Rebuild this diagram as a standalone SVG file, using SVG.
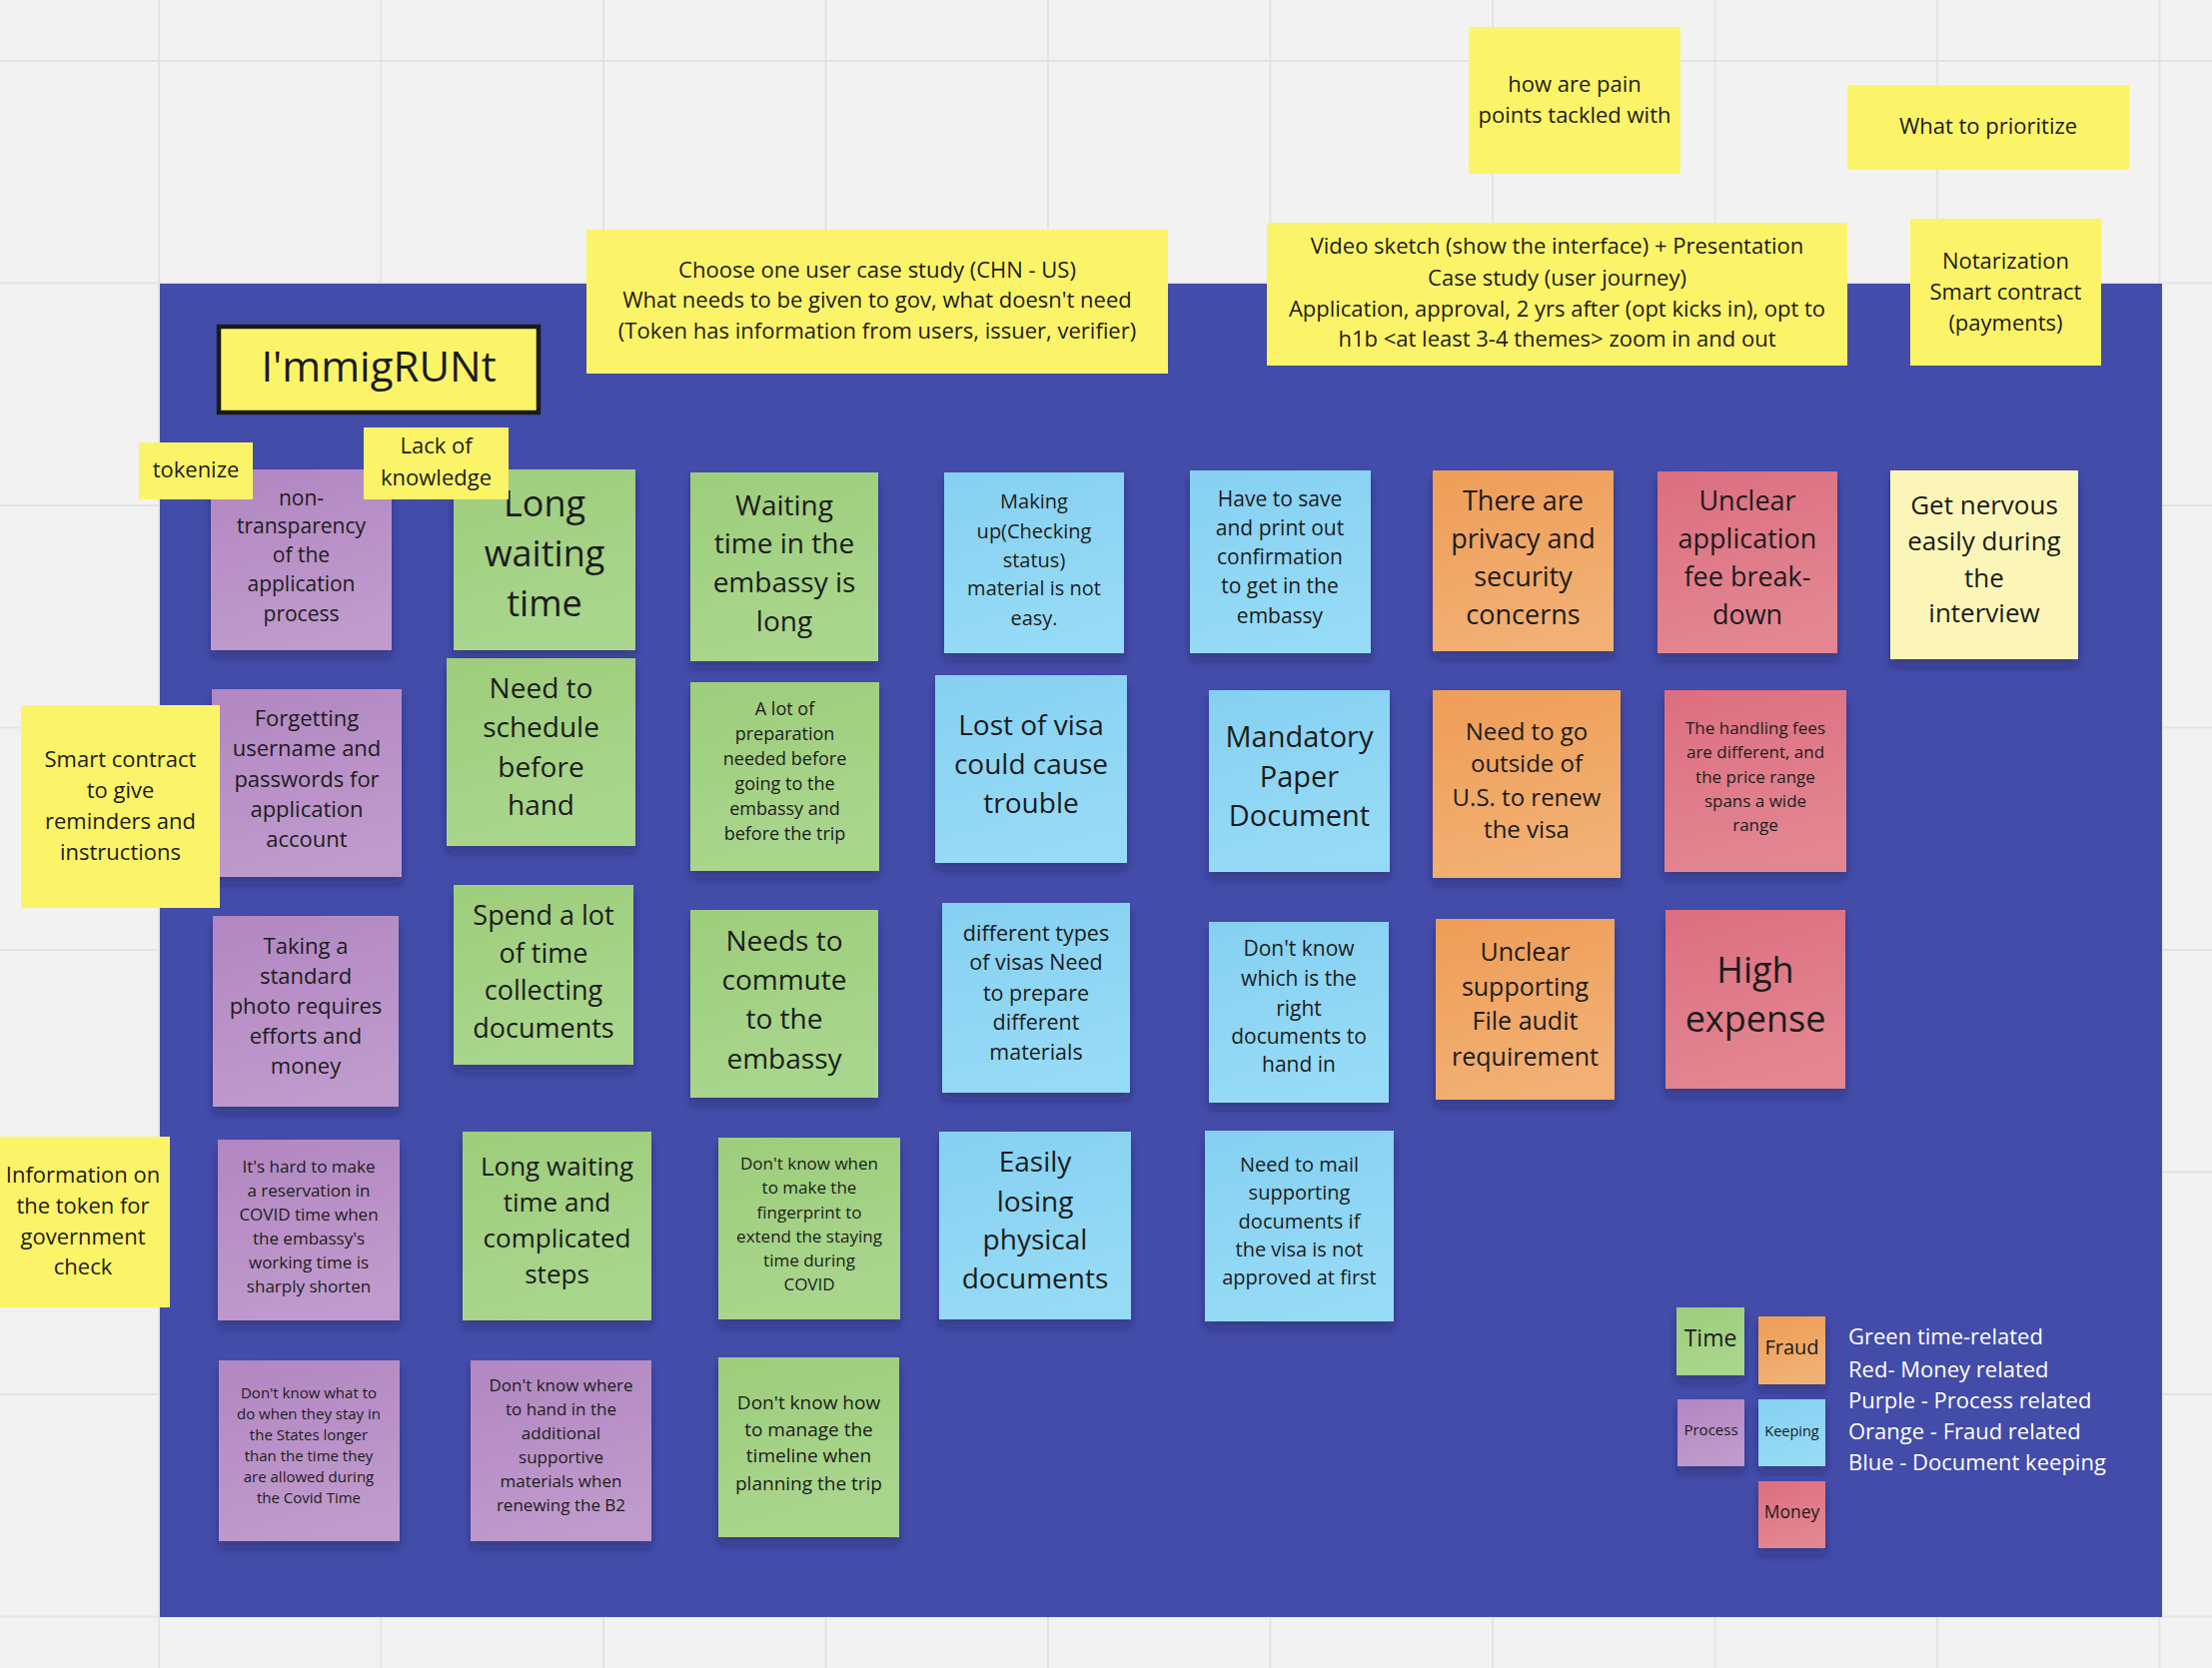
<svg xmlns="http://www.w3.org/2000/svg" width="2214" height="1670" viewBox="0 0 2214 1670">
<style>
.t{font-family:"Open Sans","Liberation Sans",sans-serif;fill:#1c1c1c;text-anchor:middle}
.lg{font-family:"Open Sans","Liberation Sans",sans-serif;fill:#ffffff}
.grid{stroke:#e3e3e3;stroke-width:2}
.y{fill:#fcf468}
.p{fill:url(#gp)}
.g{fill:url(#gg)}
.b{fill:url(#gb)}
.o{fill:url(#go)}
.r{fill:url(#gr)}
.ly{fill:#fbf6b8}
.sh{filter:url(#shadow)}
</style>
<defs>
<filter id="shadow" x="-10%" y="-10%" width="120%" height="130%">
<feDropShadow dx="0" dy="7" stdDeviation="5" flood-color="#141a4a" flood-opacity="0.35"/>
</filter>
<linearGradient id="gp" x1="0" y1="0" x2="0.3" y2="1"><stop offset="0" stop-color="#b286c2"/><stop offset="1" stop-color="#bf9acc"/></linearGradient>
<linearGradient id="gg" x1="0" y1="0" x2="0.3" y2="1"><stop offset="0" stop-color="#9ecd7b"/><stop offset="1" stop-color="#a9d68d"/></linearGradient>
<linearGradient id="gb" x1="0" y1="0" x2="0.3" y2="1"><stop offset="0" stop-color="#85d0f1"/><stop offset="1" stop-color="#96dbf6"/></linearGradient>
<linearGradient id="go" x1="0" y1="0" x2="0.3" y2="1"><stop offset="0" stop-color="#ee9d56"/><stop offset="1" stop-color="#f2b074"/></linearGradient>
<linearGradient id="gr" x1="0" y1="0" x2="0.3" y2="1"><stop offset="0" stop-color="#dc6e7f"/><stop offset="1" stop-color="#e38692"/></linearGradient>
</defs>

<g id="background">
<rect x="0" y="0" width="2214" height="1670" fill="#f2f2f2"/>
<g class="grid">
<line x1="159" y1="0" x2="159" y2="1670"/>
<line x1="381.5" y1="0" x2="381.5" y2="1670"/>
<line x1="604" y1="0" x2="604" y2="1670"/>
<line x1="826.5" y1="0" x2="826.5" y2="1670"/>
<line x1="1049" y1="0" x2="1049" y2="1670"/>
<line x1="1271.5" y1="0" x2="1271.5" y2="1670"/>
<line x1="1494" y1="0" x2="1494" y2="1670"/>
<line x1="1716.5" y1="0" x2="1716.5" y2="1670"/>
<line x1="1939" y1="0" x2="1939" y2="1670"/>
<line x1="2161.5" y1="0" x2="2161.5" y2="1670"/>
<line x1="0" y1="61" x2="2214" y2="61"/>
<line x1="0" y1="283.5" x2="2214" y2="283.5"/>
<line x1="0" y1="506" x2="2214" y2="506"/>
<line x1="0" y1="728.5" x2="2214" y2="728.5"/>
<line x1="0" y1="951" x2="2214" y2="951"/>
<line x1="0" y1="1173.5" x2="2214" y2="1173.5"/>
<line x1="0" y1="1396" x2="2214" y2="1396"/>
<line x1="0" y1="1618.5" x2="2214" y2="1618.5"/>
</g>
</g>

<g id="frame">
<rect x="160" y="284" width="2004" height="1335" fill="#434ca9"/>
</g>

<g id="connectors"></g>

<!-- Purple column -->
<g id="n-nontransparency">
<rect class="p sh" x="211" y="470" width="181" height="181"/>
<text class="t" font-size="21"><tspan x="301.5" y="506">non-</tspan><tspan x="301.5" y="534">transparency</tspan><tspan x="301.5" y="563">of the</tspan><tspan x="301.5" y="592">application</tspan><tspan x="301.5" y="622">process</tspan></text>
</g>
<g id="n-forgetting">
<rect class="p sh" x="212" y="690" width="190" height="188"/>
<text class="t" font-size="22"><tspan x="307" y="727">Forgetting</tspan><tspan x="307" y="757">username and</tspan><tspan x="307" y="788">passwords for</tspan><tspan x="307" y="818">application</tspan><tspan x="307" y="848">account</tspan></text>
</g>
<g id="n-photo">
<rect class="p sh" x="213" y="917" width="186" height="191"/>
<text class="t" font-size="22"><tspan x="306" y="955">Taking a</tspan><tspan x="306" y="985">standard</tspan><tspan x="306" y="1015">photo requires</tspan><tspan x="306" y="1045">efforts and</tspan><tspan x="306" y="1075">money</tspan></text>
</g>
<g id="n-reservation">
<rect class="p sh" x="218" y="1141" width="182" height="181"/>
<text class="t" font-size="17"><tspan x="309" y="1174">It's hard to make</tspan><tspan x="309" y="1198">a reservation in</tspan><tspan x="309" y="1222">COVID time when</tspan><tspan x="309" y="1246">the embassy's</tspan><tspan x="309" y="1270">working time is</tspan><tspan x="309" y="1294">sharply shorten</tspan></text>
</g>
<g id="n-staylonger">
<rect class="p sh" x="219" y="1362" width="181" height="181"/>
<text class="t" font-size="15"><tspan x="309" y="1400">Don't know what to</tspan><tspan x="309" y="1421">do when they stay in</tspan><tspan x="309" y="1442">the States longer</tspan><tspan x="309" y="1463">than the time they</tspan><tspan x="309" y="1484">are allowed during</tspan><tspan x="309" y="1505">the Covid Time</tspan></text>
</g>
<g id="n-handin-b2">
<rect class="p sh" x="471" y="1362" width="181" height="181"/>
<text class="t" font-size="17"><tspan x="561.5" y="1393">Don't know where</tspan><tspan x="561.5" y="1417">to hand in the</tspan><tspan x="561.5" y="1441">additional</tspan><tspan x="561.5" y="1465">supportive</tspan><tspan x="561.5" y="1489">materials when</tspan><tspan x="561.5" y="1513">renewing the B2</tspan></text>
</g>

<!-- Green column 2 -->
<g id="n-longwaiting">
<rect class="g sh" x="454" y="470" width="182" height="181"/>
<text class="t" font-size="36"><tspan x="545" y="517">Long</tspan><tspan x="545" y="567">waiting</tspan><tspan x="545" y="617">time</tspan></text>
</g>
<g id="n-schedule">
<rect class="g sh" x="447" y="659" width="189" height="188"/>
<text class="t" font-size="28"><tspan x="541.5" y="699">Need to</tspan><tspan x="541.5" y="738">schedule</tspan><tspan x="541.5" y="778">before</tspan><tspan x="541.5" y="816">hand</tspan></text>
</g>
<g id="n-spend">
<rect class="g sh" x="454" y="886" width="180" height="180"/>
<text class="t" font-size="27"><tspan x="544" y="926">Spend a lot</tspan><tspan x="544" y="964">of time</tspan><tspan x="544" y="1001">collecting</tspan><tspan x="544" y="1039">documents</tspan></text>
</g>
<g id="n-complicated">
<rect class="g sh" x="463" y="1133" width="189" height="189"/>
<text class="t" font-size="26"><tspan x="557.5" y="1177">Long waiting</tspan><tspan x="557.5" y="1213">time and</tspan><tspan x="557.5" y="1249">complicated</tspan><tspan x="557.5" y="1285">steps</tspan></text>
</g>

<!-- Green column 3 -->
<g id="n-embassywait">
<rect class="g sh" x="691" y="473" width="188" height="189"/>
<text class="t" font-size="28"><tspan x="785" y="516">Waiting</tspan><tspan x="785" y="554">time in the</tspan><tspan x="785" y="593">embassy is</tspan><tspan x="785" y="632">long</tspan></text>
</g>
<g id="n-preparation">
<rect class="g sh" x="691" y="683" width="189" height="189"/>
<text class="t" font-size="18"><tspan x="785.5" y="716">A lot of</tspan><tspan x="785.5" y="741">preparation</tspan><tspan x="785.5" y="766">needed before</tspan><tspan x="785.5" y="791">going to the</tspan><tspan x="785.5" y="816">embassy and</tspan><tspan x="785.5" y="841">before the trip</tspan></text>
</g>
<g id="n-commute">
<rect class="g sh" x="691" y="911" width="188" height="188"/>
<text class="t" font-size="28"><tspan x="785" y="952">Needs to</tspan><tspan x="785" y="991">commute</tspan><tspan x="785" y="1030">to the</tspan><tspan x="785" y="1070">embassy</tspan></text>
</g>
<g id="n-fingerprint">
<rect class="g sh" x="719" y="1139" width="182" height="182"/>
<text class="t" font-size="17"><tspan x="810" y="1171">Don't know when</tspan><tspan x="810" y="1195">to make the</tspan><tspan x="810" y="1220">fingerprint to</tspan><tspan x="810" y="1244">extend the staying</tspan><tspan x="810" y="1268">time during</tspan><tspan x="810" y="1292">COVID</tspan></text>
</g>
<g id="n-timeline">
<rect class="g sh" x="719" y="1359" width="181" height="180"/>
<text class="t" font-size="19"><tspan x="809.5" y="1411">Don't know how</tspan><tspan x="809.5" y="1438">to manage the</tspan><tspan x="809.5" y="1464">timeline when</tspan><tspan x="809.5" y="1492">planning the trip</tspan></text>
</g>

<!-- Blue column 4 -->
<g id="n-makingup">
<rect class="b sh" x="945" y="473" width="180" height="181"/>
<text class="t" font-size="20"><tspan x="1035" y="509">Making</tspan><tspan x="1035" y="539">up(Checking</tspan><tspan x="1035" y="568">status)</tspan><tspan x="1035" y="596">material is not</tspan><tspan x="1035" y="626">easy.</tspan></text>
</g>
<g id="n-lostvisa">
<rect class="b sh" x="936" y="676" width="192" height="188"/>
<text class="t" font-size="28"><tspan x="1032" y="736">Lost of visa</tspan><tspan x="1032" y="775">could cause</tspan><tspan x="1032" y="814">trouble</tspan></text>
</g>
<g id="n-visatypes">
<rect class="b sh" x="943" y="904" width="188" height="190"/>
<text class="t" font-size="21.5"><tspan x="1037" y="942">different types</tspan><tspan x="1037" y="971">of visas Need</tspan><tspan x="1037" y="1002">to prepare</tspan><tspan x="1037" y="1031">different</tspan><tspan x="1037" y="1061">materials</tspan></text>
</g>
<g id="n-losing">
<rect class="b sh" x="940" y="1133" width="192" height="188"/>
<text class="t" font-size="28"><tspan x="1036" y="1173">Easily</tspan><tspan x="1036" y="1213">losing</tspan><tspan x="1036" y="1251">physical</tspan><tspan x="1036" y="1290">documents</tspan></text>
</g>

<!-- Blue column 5 -->
<g id="n-saveprint">
<rect class="b sh" x="1191" y="471" width="181" height="183"/>
<text class="t" font-size="21"><tspan x="1281" y="507">Have to save</tspan><tspan x="1281" y="536">and print out</tspan><tspan x="1281" y="565">confirmation</tspan><tspan x="1281" y="594">to get in the</tspan><tspan x="1281" y="624">embassy</tspan></text>
</g>
<g id="n-mandatory">
<rect class="b sh" x="1210" y="691" width="181" height="182"/>
<text class="t" font-size="29"><tspan x="1300.5" y="748">Mandatory</tspan><tspan x="1300.5" y="788">Paper</tspan><tspan x="1300.5" y="827">Document</tspan></text>
</g>
<g id="n-rightdocs">
<rect class="b sh" x="1210" y="923" width="180" height="181"/>
<text class="t" font-size="21"><tspan x="1300" y="957">Don't know</tspan><tspan x="1300" y="987">which is the</tspan><tspan x="1300" y="1017">right</tspan><tspan x="1300" y="1045">documents to</tspan><tspan x="1300" y="1073">hand in</tspan></text>
</g>
<g id="n-mail">
<rect class="b sh" x="1206" y="1132" width="189" height="191"/>
<text class="t" font-size="20"><tspan x="1300.5" y="1173">Need to mail</tspan><tspan x="1300.5" y="1201">supporting</tspan><tspan x="1300.5" y="1230">documents if</tspan><tspan x="1300.5" y="1258">the visa is not</tspan><tspan x="1300.5" y="1286">approved at first</tspan></text>
</g>

<!-- Orange column -->
<g id="n-privacy">
<rect class="o sh" x="1434" y="471" width="181" height="181"/>
<text class="t" font-size="27"><tspan x="1524.5" y="511">There are</tspan><tspan x="1524.5" y="549">privacy and</tspan><tspan x="1524.5" y="587">security</tspan><tspan x="1524.5" y="625">concerns</tspan></text>
</g>
<g id="n-renew">
<rect class="o sh" x="1434" y="691" width="188" height="188"/>
<text class="t" font-size="24"><tspan x="1528" y="741">Need to go</tspan><tspan x="1528" y="773">outside of</tspan><tspan x="1528" y="807">U.S. to renew</tspan><tspan x="1528" y="839">the visa</tspan></text>
</g>
<g id="n-audit">
<rect class="o sh" x="1437" y="920" width="179" height="181"/>
<text class="t" font-size="25"><tspan x="1526.5" y="962">Unclear</tspan><tspan x="1526.5" y="997">supporting</tspan><tspan x="1526.5" y="1031">File audit</tspan><tspan x="1526.5" y="1067">requirement</tspan></text>
</g>

<!-- Red column -->
<g id="n-feebreakdown">
<rect class="r sh" x="1659" y="472" width="180" height="182"/>
<text class="t" font-size="27"><tspan x="1749" y="511">Unclear</tspan><tspan x="1749" y="549">application</tspan><tspan x="1749" y="587">fee break-</tspan><tspan x="1749" y="625">down</tspan></text>
</g>
<g id="n-handlingfees">
<rect class="r sh" x="1666" y="691" width="182" height="182"/>
<text class="t" font-size="17"><tspan x="1757" y="735">The handling fees</tspan><tspan x="1757" y="759">are different, and</tspan><tspan x="1757" y="784">the price range</tspan><tspan x="1757" y="808">spans a wide</tspan><tspan x="1757" y="832">range</tspan></text>
</g>
<g id="n-highexpense">
<rect class="r sh" x="1667" y="911" width="180" height="179"/>
<text class="t" font-size="36"><tspan x="1757" y="984">High</tspan><tspan x="1757" y="1033">expense</tspan></text>
</g>

<!-- Light yellow -->
<g id="n-nervous">
<rect class="ly sh" x="1892" y="471" width="188" height="189"/>
<text class="t" font-size="26"><tspan x="1986" y="515">Get nervous</tspan><tspan x="1986" y="551">easily during</tspan><tspan x="1986" y="588">the</tspan><tspan x="1986" y="623">interview</tspan></text>
</g>

<!-- Legend -->
<g id="legend">
<rect class="g sh" x="1678" y="1309" width="68" height="68"/>
<text class="t" font-size="23" x="1712" y="1348">Time</text>
<rect class="o sh" x="1760" y="1318" width="67" height="68"/>
<text class="t" font-size="20" x="1793.5" y="1356">Fraud</text>
<rect class="p sh" x="1679" y="1401" width="67" height="67"/>
<text class="t" font-size="15" x="1712.5" y="1437">Process</text>
<rect class="b sh" x="1760" y="1401" width="67" height="67"/>
<text class="t" font-size="14.5" x="1793.5" y="1438">Keeping</text>
<rect class="r sh" x="1760" y="1483" width="67" height="67"/>
<text class="t" font-size="17.5" x="1793.5" y="1520">Money</text>
<text class="lg" font-size="22"><tspan x="1850" y="1346">Green time-related</tspan><tspan x="1850" y="1379">Red- Money related</tspan><tspan x="1850" y="1410">Purple - Process related</tspan><tspan x="1850" y="1441">Orange - Fraud related</tspan><tspan x="1850" y="1472">Blue - Document keeping</tspan></text>
</g>

<!-- Title -->
<g id="title">
<rect x="219" y="327" width="320" height="86" fill="#fcf468" stroke="#1a1a1a" stroke-width="4.5"/>
<text class="t" font-size="42" x="379" y="382">I'mmigRUNt</text>
</g>

<!-- Yellow notes -->
<g id="y-painpoints">
<rect class="y" x="1470" y="27" width="212" height="147"/>
<text class="t" font-size="22"><tspan x="1576" y="92">how are pain</tspan><tspan x="1576" y="123">points tackled with</tspan></text>
</g>
<g id="y-prioritize">
<rect class="y" x="1849" y="85" width="282" height="85"/>
<text class="t" font-size="22" x="1990" y="134">What to prioritize</text>
</g>
<g id="y-video">
<rect class="y" x="1268" y="223" width="581" height="143"/>
<text class="t" font-size="22"><tspan x="1558.5" y="254">Video sketch (show the interface) + Presentation</tspan><tspan x="1558.5" y="286">Case study (user journey)</tspan><tspan x="1558.5" y="317">Application, approval, 2 yrs after (opt kicks in), opt to</tspan><tspan x="1558.5" y="347">h1b &lt;at least 3-4 themes&gt; zoom in and out</tspan></text>
</g>
<g id="y-notarization">
<rect class="y" x="1912" y="219" width="191" height="147"/>
<text class="t" font-size="22"><tspan x="2007.5" y="269">Notarization</tspan><tspan x="2007.5" y="300">Smart contract</tspan><tspan x="2007.5" y="331">(payments)</tspan></text>
</g>
<g id="y-casestudy">
<rect class="y" x="587" y="230" width="582" height="144"/>
<text class="t" font-size="22"><tspan x="878" y="278">Choose one user case study (CHN - US)</tspan><tspan x="878" y="308">What needs to be given to gov, what doesn't need</tspan><tspan x="878" y="339">(Token has information from users, issuer, verifier)</tspan></text>
</g>
<g id="y-tokenize">
<rect class="y" x="139" y="443" width="114" height="57"/>
<text class="t" font-size="22" x="196" y="478">tokenize</text>
</g>
<g id="y-lackknowledge">
<rect class="y" x="364" y="428" width="145" height="72"/>
<text class="t" font-size="22"><tspan x="436.5" y="454">Lack of</tspan><tspan x="436.5" y="486">knowledge</tspan></text>
</g>
<g id="y-smartcontract">
<rect class="y" x="21" y="706" width="199" height="203"/>
<text class="t" font-size="22"><tspan x="120.5" y="768">Smart contract</tspan><tspan x="120.5" y="799">to give</tspan><tspan x="120.5" y="830">reminders and</tspan><tspan x="120.5" y="861">instructions</tspan></text>
</g>
<g id="y-tokeninfo">
<rect class="y" x="0" y="1138" width="170" height="171"/>
<text class="t" font-size="22"><tspan x="83" y="1184">Information on</tspan><tspan x="83" y="1215">the token for</tspan><tspan x="83" y="1246">government</tspan><tspan x="83" y="1276">check</tspan></text>
</g>
</svg>
